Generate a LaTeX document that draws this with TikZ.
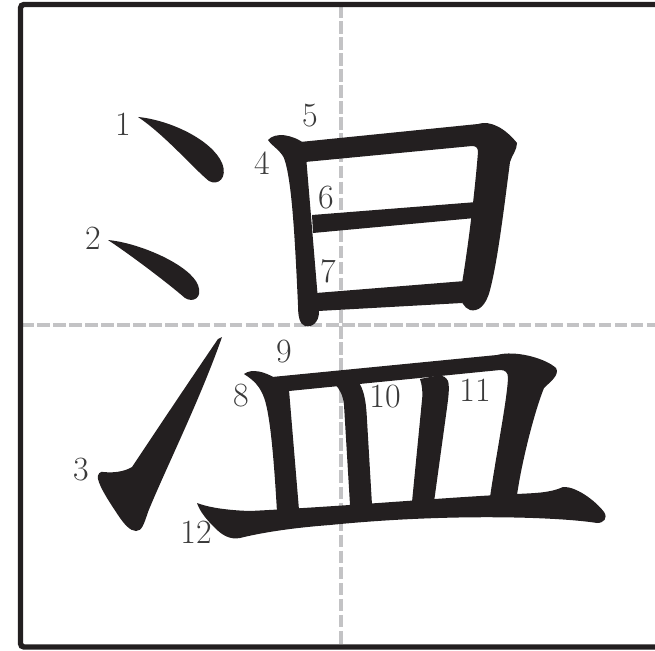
\documentclass[tikz,border=0pt]{standalone}
\usepackage{tikz}
\usetikzlibrary{positioning}
\usepackage{xcolor}
\definecolor{ink}{HTML}{231F20}
\definecolor{guide}{HTML}{C3C3C5}
\definecolor{numgray}{HTML}{3A3A3A}

\begin{document}
\begin{tikzpicture}[x=0.03cm, y=-0.03cm,
    bihua/.style={fill=ink, draw=none},
    guideline/.style={guide, line width=3.4pt, dash pattern=on 10.7pt off 3pt},
    num/.style={text=numgray, inner sep=0pt, font=\fontsize{29}{29}\selectfont}]
    \useasboundingbox (0,0) rectangle (655,650);
    % grid
    \draw[guideline] (341,5) -- (341,646);
    \draw[guideline] (21,325) -- (663,325);
    \draw[ink, line width=4.6pt, rounded corners=3pt] (20.5,4.5) rectangle (663,647);

    % strokes 1-3
    \fill[bihua] (138,117) .. controls (170,120) and (212,140) .. (222,163)
        .. controls (228,178) and (218,186) .. (209,181)
        .. controls (195,170) and (165,135) .. (138,117) -- cycle;
    \fill[bihua] (108,240) .. controls (140,243) and (190,265) .. (198,285)
        .. controls (203,298) and (193,303) .. (185,298)
        .. controls (170,285) and (135,258) .. (108,240) -- cycle;
    \fill[bihua] (222,337) .. controls (200,400) and (165,470) .. (148,512)
        .. controls (144,524) and (142,531) .. (136,531)
        .. controls (130,531) and (124,524) .. (118,515)
        .. controls (110,503) and (100,488) .. (98,479)
        .. controls (97,474) and (100,471) .. (104,472)
        .. controls (112,473) and (124,472) .. (132,467)
        .. controls (150,440) and (190,380) .. (218,339) -- cycle;

    % strokes 4-7
    \fill[bihua] (268,140) .. controls (275,132) and (292,134) .. (305,144) -- (319,312)
        .. controls (319,322) and (312,328) .. (305,326)
        .. controls (300,324) and (298,318) .. (298,305)
        .. controls (295,240) and (292,180) .. (284,158)
        .. controls (280,150) and (272,146) .. (268,140) -- cycle;
    \fill[bihua] (300,142) -- (478,124) .. controls (490,120) and (505,128) .. (517,143)
        .. controls (517,150) and (512,155) .. (510,162)
        .. controls (505,200) and (498,260) .. (490,290)
        .. controls (486,306) and (478,312) .. (470,310)
        .. controls (464,308) and (460,300) .. (460,295)
        .. controls (468,250) and (475,190) .. (478,152)
        .. controls (478,148) and (476,146) .. (472,146) -- (305,162) -- cycle;
    \fill[bihua] (312,215) -- (477,202) -- (475,218) -- (313,233) -- cycle;
    \fill[bihua] (316,293) -- (465,281) -- (462,303) -- (318,311) -- cycle;

    % strokes 8-12
    \fill[bihua] (244,374) .. controls (252,368) and (265,372) .. (275,378) -- (289,390)
        -- (299,510) -- (277,512) .. controls (274,460) and (270,410) .. (263,395)
        .. controls (258,383) and (250,378) .. (244,374) -- cycle;
    \fill[bihua] (272,377) -- (497,355) .. controls (515,350) and (545,358) .. (556,368)
        .. controls (560,375) and (550,382) .. (544,388)
        .. controls (535,410) and (522,460) .. (517,495) -- (490,497)
        .. controls (497,450) and (507,400) .. (508,378)
        .. controls (508,372) and (505,370) .. (500,370) -- (289,391) -- cycle;
    \fill[bihua] (335,384) .. controls (340,390) and (343,395) .. (344,405) -- (350,505)
        -- (372,505) -- (367,420) .. controls (366,400) and (364,390) .. (358,381) -- cycle;
    \fill[bihua] (420,379) .. controls (422,385) and (423,392) .. (422,400) -- (412,502)
        -- (434,502) -- (446,415) .. controls (448,400) and (450,388) .. (448,381)
        .. controls (446,377) and (443,376) .. (440,375) -- cycle;
    \fill[bihua] (197,503) .. controls (205,506) and (220,510) .. (250,511)
        .. controls (350,506) and (450,497) .. (517,494)
        .. controls (535,493) and (550,493) .. (563,487)
        .. controls (575,486) and (595,500) .. (604,512)
        .. controls (608,518) and (604,523) .. (597,523)
        .. controls (560,517) and (450,513) .. (330,525)
        .. controls (290,528) and (260,533) .. (240,538)
        .. controls (230,540) and (222,535) .. (215,528)
        .. controls (207,520) and (200,512) .. (197,503) -- cycle;

    % stroke numbers
    \node[num] (n1) at (123,124) {1};
    \node[num] (n2) at (93,238) {2};
    \node[num] (n3) at (81,470) {3};
    \node[num] (n4) at (262,163) {4};
    \node[num] (n5) at (310,116) {5};
    \node[num] (n6) at (326,198) {6};
    \node[num] (n7) at (328,271) {7};
    \node[num] (n8) at (241,396) {8};
    \node[num] (n9) at (284,352) {9};
    \node[num] (n10) at (385,397) {10};
    \node[num] (n11) at (475,390) {11};
    \node[num] (n12) at (196,532) {12};
\end{tikzpicture}
\end{document}
